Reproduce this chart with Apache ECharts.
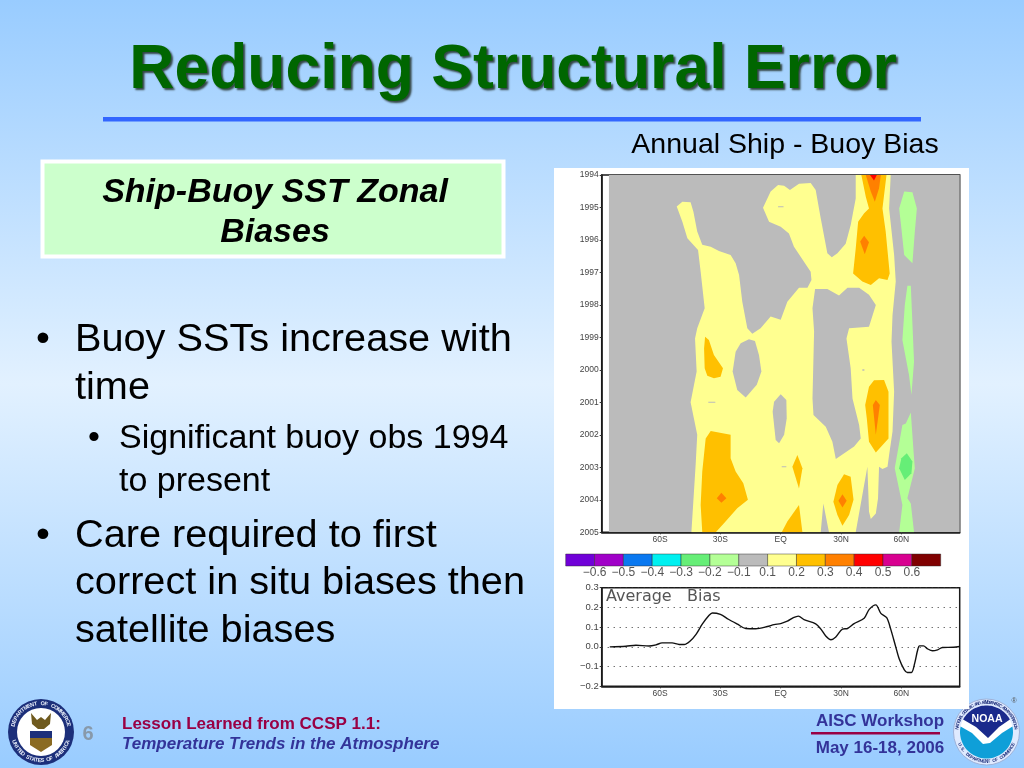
<!DOCTYPE html>
<html><head><meta charset="utf-8"><style>html,body{margin:0;padding:0}#c{width:1024px;height:768px}</style>
<script src="https://cdn.jsdelivr.net/npm/echarts@6/dist/echarts.min.js"></script></head>
<body><div id="c"></div><script>
// ---------- data (longitude in degrees, year as years after 1994) ----------
const lonTicks=[-60,-30,0,30,60];
const lonLabels={'-60':'60S','-30':'30S','0':'EQ','30':'30N','60':'60N'};
const yearTicks=[1994,1995,1996,1997,1998,1999,2000,2001,2002,2003,2004,2005];
const colorbarColors=['#7000d8','#a000c8','#0a78f0','#00f0f0','#66ee77','#b4ff96','#bbbbbb','#ffff90','#ffc000','#ff8000','#ff0000','#d80090','#800000'];
const colorbarLabels=['\u22120.6','\u22120.5','\u22120.4','\u22120.3','\u22120.2','\u22120.1','0.1','0.2','0.3','0.4','0.5','0.6'];

const yellowBand=[[[-51.7,.97],[-48.9,.82],[-44.8,.84],[-43.4,1.13],[-41.5,1.74],[-39,2.15],[-34.8,2.21],[-30.7,2.34],[-24.9,2.46],[-22.4,2.72],[-20.7,3.08],[-19.1,3.9],[-16.6,4.72],[-14.1,4.89],[-10,4.72],[-5,4.36],[0,4.46],[3.3,3.9],[9.1,3.47],[13.3,3.47],[15.3,3.23],[14.9,2.98],[6.6,2.21],[4.1,1.8],[0,1.59],[-5.8,1.44],[-8.8,1.01],[-5,.51],[-1.3,.31],[1.7,.33],[4.6,.46],[9.1,.27],[14.9,.25],[17.4,.46],[19.9,1.33],[23.2,2.41],[25.4,2.53],[28.2,2.41],[32.3,2.12],[34.8,1.54],[37.3,.72],[37.3,0],[54.7,0],[53.9,1.03],[56.4,2.46],[57.2,3.28],[55.6,4.31],[55.1,5.13],[56.4,6.67],[55.6,7.9],[53.9,8.62],[53.1,8.98],[50.6,9.05],[48.9,8.98],[48.4,9.95],[47.3,10.42],[44.8,10.59],[43.9,10.36],[43.1,8.98],[37.3,11],[24,11],[21.2,10.11],[19.9,11],[-44.4,11],[-42.3,8.93],[-41.5,8],[-44.8,7],[-41.8,6.05],[-42.6,5.03],[-41.5,4.72],[-37.8,4.1],[-39.8,2.98],[-41.1,2.31],[-46.4,1.95],[-48.9,1.44]]];
const grayHoles=[
 [[17.1,3.51],[23.2,3.51],[29,3.71],[33.2,3.47],[39,3.47],[43.9,3.69],[47.3,4],[43.9,4.67],[34,4.72],[32.7,5.03],[34.8,5.95],[35.7,6.88],[39,7.7],[39.8,8.11],[36.5,8.36],[27.4,8.74],[25.7,8.21],[22.4,7.75],[16.3,7.39],[15.8,6.88],[16.6,4.82],[15.8,4.1]],
 [[-15.8,5.06],[-12.8,5.11],[-10.8,5.54],[-9.6,6.05],[-11.9,6.46],[-17.4,6.85],[-21.6,6.62],[-23.9,6.05],[-22.4,5.44],[-19.9,5.18]],
 [[0,6.75],[2.8,6.93],[3,7.49],[1.7,8],[-.8,8.26],[-2.5,8.16],[-4,7.29],[-3.3,6.98]],
 [[-1.3,.96],[1.4,.96],[1.4,.99],[-1.3,.99]],
 [[-36,6.98],[-32.5,6.98],[-32.5,7.01],[-36,7.01]],
 [[.5,8.97],[2.8,8.97],[2.8,9],[.5,9]],
 [[40.6,5.98],[41.6,5.98],[41.6,6.03],[40.6,6.03]]
];
const amberBand=[
 [[40.1,0],[52.6,0],[50.6,1.03],[52.2,1.74],[54.2,3.03],[53.1,3.23],[48.9,3.18],[44.8,3.39],[40.6,3.28],[36,3.03],[37.3,2.26],[38.5,1.44],[41.5,1.18],[43.9,1.03],[42.3,.67]],
 [[-37.6,4.98],[-35.7,5.08],[-33.2,5.54],[-28.7,5.95],[-29.9,6.21],[-33.2,6.26],[-36.5,6.18],[-37.8,5.95],[-38.1,5.34]],
 [[46.4,6.32],[51.4,6.31],[53.6,6.67],[53.6,8.11],[47.3,8.54],[43.9,8.21],[42.8,7.49],[42,7.08],[43.9,6.52]],
 [[-34.8,7.88],[-24.9,8],[-24.9,8.72],[-22.4,9.13],[-18.6,9.49],[-16.3,10],[-21.6,10.26],[-28.2,10.72],[-32.3,11],[-39,11],[-39.8,10.16],[-39,9.13],[-37.3,8.11]],
 [[8.3,8.62],[10.8,9.03],[9.1,9.65],[5.8,8.98]],
 [[9.1,10.16],[10.8,11],[.5,11],[3.3,10.67]],
 [[31.5,9.21],[34.8,9.29],[36.2,10],[34,10.47],[30.7,10.8],[28.2,10.47],[26.2,10.06],[28.2,9.54]]
];
const orangeBand=[
 [[42.3,0],[49.8,0],[48.9,.41],[46.8,.82],[44.8,.51]],
 [[41.5,1.87],[43.9,2.07],[41.8,2.44],[39.5,2.05]],
 [[47.3,6.93],[49.3,7.08],[47.3,8],[45.8,7.08]],
 [[-29.5,9.78],[-27,9.95],[-29.5,10.09],[-31.8,9.95]],
 [[30.7,9.83],[32.8,10.03],[30.7,10.24],[28.7,10.03]]
];
const redBand=[[[44.4,0],[47.8,0],[46.4,.17]]];
const paleGreenBand=[
 [[61.4,.51],[65.5,.53],[67.7,1.03],[66.7,1.74],[65.5,2.72],[61.4,2.46],[60,1.64],[58.9,1.03]],
 [[63,3.41],[64.7,3.41],[66.3,5.75],[65,6.77],[63.8,6.16],[60.5,5.08],[61.7,4]],
 [[64.7,7.31],[66.3,8.72],[66.7,9.03],[63,9.95],[64.7,10.11],[66.3,11],[58.9,11],[60.5,10.16],[56.7,9.03],[60.5,7.7],[62.2,7.65]]
];
const greenBand=[[[62.7,8.57],[65.5,8.82],[65,9.18],[61.7,9.39],[58.9,9.03],[60,8.72]]];
const grayDomain=[[[-85.4,0],[89,0],[89,11],[-85.4,11]]];

const biasLon=[-85,-77,-72,-65.5,-62,-59,-54,-50.5,-48,-45,-42,-39,-35.6,-34,-30,-26,-21.5,-17.4,-12.4,-6.6,-3.3,0,3.3,6.3,8.8,11.6,17.4,20,22.4,25,27.4,30.7,33.2,36.5,41.5,44,47.3,49.8,52.7,54.7,57.2,58.9,61.4,63,65,66.7,68,69,71,73,75.5,78,80.4,86,89];
const biasValue=[0,.003,.008,.004,.01,.02,.02,.012,.012,.03,.065,.115,.16,.172,.165,.14,.115,.093,.092,.103,.113,.118,.13,.148,.156,.138,.117,.09,.055,.036,.05,.09,.093,.118,.145,.19,.213,.17,.148,.09,0,-.06,-.115,-.13,-.13,-.08,-.02,.005,.005,-.01,-.02,-.015,-.003,-.002,.002];

// ---------- page helpers ----------
const SANS='"Liberation Sans",Arial,sans-serif';
function txt(x,y,text,size,o){o=o||{};return {type:'text',x:x,y:y,silent:true,rotation:o.rot||0,style:Object.assign({text:text,fontFamily:SANS,fontSize:size,fontWeight:o.w||'normal',fontStyle:o.i||'normal',fill:o.c||'#000',align:o.a||'left',verticalAlign:'middle'},o.s||{})};}
function rect(x,y,w,h,fill,o){return Object.assign({type:'rect',silent:true,shape:{x:x,y:y,width:w,height:h},style:{fill:fill}},o||{});}
function disc(cx,cy,r,fill,stroke,lw){return {type:'circle',silent:true,shape:{cx:cx,cy:cy,r:r},style:{fill:fill,stroke:stroke||null,lineWidth:lw||0}};}
function poly(pts,fill){return {type:'polygon',silent:true,shape:{points:pts},style:{fill:fill}};}
function arcPts(cx,cy,r,a0,a1,n){const p=[];for(let i=0;i<=n;i++){const a=(a0+(a1-a0)*i/n)*Math.PI/180;p.push([cx+r*Math.cos(a),cy+r*Math.sin(a)]);}return p;}
// text set letter by letter round a circle; angles in degrees, 0 = right, clockwise on screen
function ringText(cx,cy,r,s,a0,a1,size,col,inward){const out=[];const n=s.length;for(let i=0;i<n;i++){const a=a0+(a1-a0)*(n>1?i/(n-1):0);const t=a*Math.PI/180;const rot=inward?-(a-90)*Math.PI/180:-(a+90)*Math.PI/180;out.push(txt(cx+r*Math.cos(t),cy+r*Math.sin(t),s[i],size,{w:'bold',a:'center',c:col,rot:rot}));}return out;}

const deco=[
 {type:'rect',silent:true,shape:{x:0,y:0,width:1024,height:768},style:{fill:{type:'linear',x:0,y:0,x2:0,y2:1,colorStops:[{offset:0,color:'#99ccff'},{offset:.5,color:'#e2f1ff'},{offset:1,color:'#99ccff'}]}}},
 txt(513,71,'Reducing Structural Error',62.5,{w:'bold',a:'center',c:'#006600',s:{textShadowColor:'rgba(30,45,35,.85)',textShadowBlur:2,textShadowOffsetX:2,textShadowOffsetY:2}}),
 rect(103,117,818,4.5,'#3366ff'),
 txt(785,145,'Annual Ship - Buoy Bias',28.5,{a:'center'}),
 rect(42.5,161.5,461,95,'#ccffcc',{style:{fill:'#ccffcc',stroke:'#ffffff',lineWidth:4}}),
 txt(275,193,'Ship-Buoy SST Zonal',34,{w:'bold',i:'italic',a:'center'}),
 txt(275,233,'Biases',34,{w:'bold',i:'italic',a:'center'}),
 txt(36,340,'\u2022',39.7),txt(75,340,'Buoy SSTs increase with',39.7),txt(75,388,'time',39.7),
 txt(88,439,'\u2022',34),txt(119,439,'Significant buoy obs 1994',34),txt(119,482,'to present',34),
 txt(36,536,'\u2022',39.7),txt(75,536,'Care required to first',39.7),txt(75,583,'correct in situ biases then',39.7),txt(75,631,'satellite biases',39.7),
 // footer
 txt(88,734,'6',20,{w:'bold',a:'center',c:'#8899aa'}),
 txt(122,724,'Lesson Learned from CCSP 1.1:',17,{w:'bold',c:'#990044'}),
 txt(122,744,'Temperature Trends in the Atmosphere',17,{w:'bold',i:'italic',c:'#333399'}),
 txt(880,721,'AISC Workshop',17,{w:'bold',a:'center',c:'#333399'}),
 rect(811,732,129,2.5,'#990044'),
 txt(880,748,'May 16-18, 2006',17,{w:'bold',a:'center',c:'#333399'}),
 // Department of Commerce seal
 disc(41,732,33,'#1c2f7a'),disc(41,732,24,'#ffffff'),
 ...ringText(41,732,28.5,'DEPARTMENT OF COMMERCE',-165,-15,5.5,'#e8eefa',false),
 ...ringText(41,732,28.5,'UNITED STATES OF AMERICA',160,20,5.5,'#e8eefa',true),
 poly([[31,713],[37,720],[41,717],[45,720],[51,713],[50,724],[44,729],[38,729],[32,724]],'#6f5a1e'),
 poly([[30,731],[52,731],[52,738],[30,738]],'#1c2f7a'),
 poly([[30,738],[52,738],[52,745],[41,752],[30,745]],'#8a6a22'),
 // NOAA emblem
 disc(986.5,732,33,'#dfeaff','#9fb2d8',1),
 ...ringText(986.5,732,29.5,'NATIONAL OCEANIC AND ATMOSPHERIC ADMINISTRATION',-172,-8,4.5,'#25357f',false),
 ...ringText(986.5,732,29.5,'U.S. DEPARTMENT OF COMMERCE',155,25,4.5,'#25357f',true),
 disc(986.5,732,26.5,'#ffffff'),
 poly(arcPts(986.5,732,26.5,-152,-28,40).concat([[999,727],[988,738],[976,727]]),'#1a2a8c'),
 poly(arcPts(986.5,732,26.5,-12,192,50).concat([[972,733],[983,744],[990,743],[1002,733]]),'#0f9fd8'),
 txt(987,719,'NOAA',10.5,{w:'bold',a:'center',c:'#ffffff'}),
 txt(1014,701,'\u00ae',7,{a:'center',c:'#555'}),
 // white panel behind the figure
 rect(554,168,415,541,'#ffffff'),
 // caption inside the lower panel
 txt(606,597,'Average   Bias',16,{c:'#555',s:{fontFamily:'"DejaVu Sans ExtraLight","DejaVu Sans",sans-serif'}})
];
deco.forEach(e=>{e.z=-5;});

// ---------- chart ----------
const contourLayers=[
 {color:colorbarColors[6],polys:grayDomain},
 {color:colorbarColors[7],polys:yellowBand},
 {color:colorbarColors[6],polys:grayHoles},
 {color:colorbarColors[8],polys:amberBand},
 {color:colorbarColors[9],polys:orangeBand},
 {color:colorbarColors[10],polys:redBand},
 {color:colorbarColors[5],polys:paleGreenBand},
 {color:colorbarColors[4],polys:greenBand}
];
const contourPolys=[];
contourLayers.forEach(l=>l.polys.forEach(p=>contourPolys.push({color:l.color,pts:p.map(q=>[q[0],1994+q[1]])})));

const axisText={fontFamily:SANS,fontSize:8.5,color:'#444',margin:3};
const frame={show:true,borderColor:'#1a1a1a',borderWidth:1.5,backgroundColor:'transparent'};
function lonAxis(idx){return {type:'value',gridIndex:idx,min:-89,max:89,axisLine:{onZero:false,lineStyle:{color:'#1a1a1a',width:1.5}},splitLine:{show:false},axisTick:{length:2,customValues:lonTicks,lineStyle:{color:'#333'}},axisLabel:Object.assign({},axisText,{customValues:lonTicks,formatter:v=>lonLabels[v]})};}

const chart=echarts.init(document.getElementById('c'),null,{renderer:'canvas'});
chart.setOption({
 animation:false,
 graphic:{elements:deco},
 grid:[
  Object.assign({left:601.7,top:175,width:358,height:357.3},frame),
  Object.assign({left:601.7,top:587.7,width:358,height:98.6},frame),
  {left:565.7,top:554,width:375,height:12,show:false}
 ],
 xAxis:[lonAxis(0),lonAxis(1),
  {type:'value',gridIndex:2,min:0,max:13,interval:1,axisLine:{show:false},axisTick:{show:false},splitLine:{show:false},
   axisLabel:{fontFamily:SANS,fontSize:12,color:'#555',margin:1,showMinLabel:false,showMaxLabel:false,formatter:v=>colorbarLabels[v-1]||''}}],
 yAxis:[
  {type:'value',gridIndex:0,inverse:true,min:yearTicks[0],max:yearTicks[yearTicks.length-1],interval:1,axisLine:{onZero:false,lineStyle:{color:'#1a1a1a',width:1.5}},axisTick:{show:true,length:2,lineStyle:{color:'#333'}},splitLine:{show:false},axisLabel:Object.assign({},axisText,{fontSize:8.5,formatter:v=>String(v)})},
  {type:'value',gridIndex:1,min:-0.2,max:0.3,interval:0.1,axisLine:{onZero:false,lineStyle:{color:'#1a1a1a',width:1.5}},axisTick:{show:true,length:2,lineStyle:{color:'#333'}},splitLine:{show:true,lineStyle:{type:[1,5],color:'#333',width:1}},axisLabel:Object.assign({},axisText,{fontSize:9.5,formatter:v=>{const s=Math.abs(v).toFixed(1);return v<-1e-6?'\u2212'+s:s;}})},
  {type:'value',gridIndex:2,min:0,max:1,show:false}
 ],
 series:[
  {type:'custom',name:'Annual bias',xAxisIndex:0,yAxisIndex:0,clip:true,silent:true,data:contourPolys.map((_,i)=>[i]),
   renderItem:(params,api)=>{const p=contourPolys[api.value(0)];return {type:'polygon',shape:{points:p.pts.map(q=>api.coord(q))},style:{fill:p.color}};}},
  {type:'line',name:'Average Bias',xAxisIndex:1,yAxisIndex:1,showSymbol:false,smooth:0.3,silent:true,lineStyle:{color:'#111',width:1.4},data:biasLon.map((x,i)=>[x,biasValue[i]])},
  {type:'custom',name:'Colour scale',xAxisIndex:2,yAxisIndex:2,silent:true,data:colorbarColors.map((_,i)=>[i]),
   renderItem:(params,api)=>{const i=api.value(0);const a=api.coord([i,1]),b=api.coord([i+1,0]);return {type:'rect',shape:{x:a[0],y:a[1],width:b[0]-a[0],height:b[1]-a[1]},style:{fill:colorbarColors[i],stroke:'rgba(40,40,40,.75)',lineWidth:.6}};}}
 ]
});
</script></body></html>
